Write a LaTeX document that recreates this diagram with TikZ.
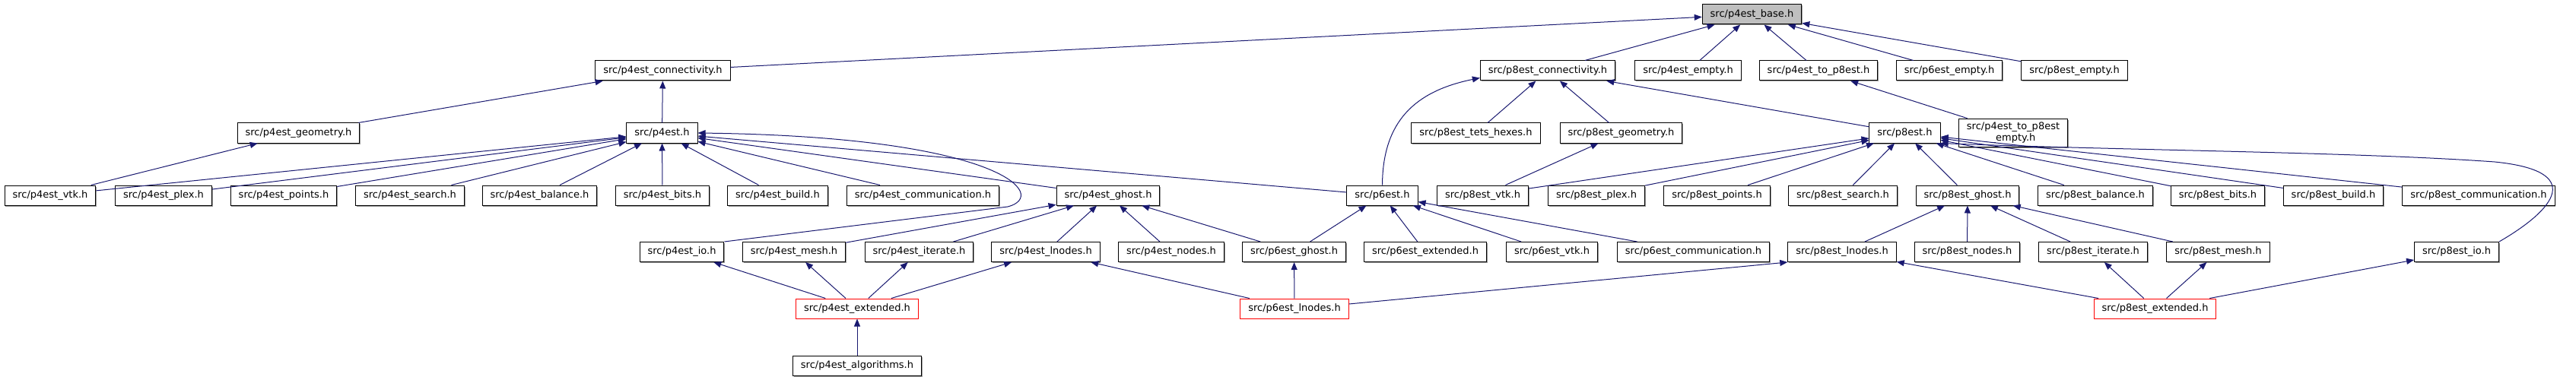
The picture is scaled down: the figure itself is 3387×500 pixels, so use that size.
\documentclass[tikz,border=0pt]{standalone}
\usepackage{fontspec}
\setmainfont{DejaVu Sans}
\usetikzlibrary{arrows.meta,shadows}
\definecolor{edgeblue}{RGB}{25,25,112}
\definecolor{rootgray}{RGB}{191,191,191}

\begin{document}
\begin{tikzpicture}[x=1pt, y=-1pt,
    box/.style={draw=black, line width=1pt, fill=white, font=\fontsize{13}{15}\selectfont,
        inner xsep=10.5pt, inner ysep=5pt, minimum height=26pt, align=center},
    file/.style={box, drop shadow={shadow xshift=1.2pt, shadow yshift=-1.5pt, fill=gray!80, opacity=1}},
    root/.style={file, fill=rootgray},
    cut/.style={box, draw=red},
    dep/.style={draw=edgeblue, line width=1pt, -{Triangle[length=10pt, width=8pt]}}]
    \useasboundingbox (0, 0) rectangle (3387, 500);

    % row 0 and 1
    \node[root] (base) at (2303.5, 19) {src/p4est\_base.h};
    \node[file] (conn4) at (871.5, 93) {src/p4est\_connectivity.h};
    \node[file] (conn8) at (2035, 93) {src/p8est\_connectivity.h};
    \node[file] (empty4) at (2219.5, 93) {src/p4est\_empty.h};
    \node[file] (top8) at (2391, 93) {src/p4est\_to\_p8est.h};
    \node[file] (empty6) at (2563, 93) {src/p6est\_empty.h};
    \node[file] (empty8) at (2727.5, 93) {src/p8est\_empty.h};

    % row 2
    \node[file] (geom4) at (392.5, 175) {src/p4est\_geometry.h};
    \node[file] (p4) at (870.5, 175) {src/p4est.h};
    \node[file] (tets8) at (1940.5, 175) {src/p8est\_tets\_hexes.h};
    \node[file] (geom8) at (2131.5, 175) {src/p8est\_geometry.h};
    \node[file] (p8) at (2504.5, 175) {src/p8est.h};
    \node[file] (top8empty) at (2647, 175) {src/p4est\_to\_p8est\\\_empty.h};

    % row 3
    \node[file] (vtk4) at (66, 257) {src/p4est\_vtk.h};
    \node[file] (plex4) at (215, 257) {src/p4est\_plex.h};
    \node[file] (points4) at (373, 257) {src/p4est\_points.h};
    \node[file] (search4) at (539, 257) {src/p4est\_search.h};
    \node[file] (balance4) at (709.5, 257) {src/p4est\_balance.h};
    \node[file] (bits4) at (871, 257) {src/p4est\_bits.h};
    \node[file] (build4) at (1022.5, 257) {src/p4est\_build.h};
    \node[file] (comm4) at (1213.5, 257) {src/p4est\_communication.h};
    \node[file] (ghost4) at (1457, 257) {src/p4est\_ghost.h};
    \node[file] (p6) at (1817.5, 257) {src/p6est.h};
    \node[file] (vtk8) at (1949.5, 257) {src/p8est\_vtk.h};
    \node[file] (plex8) at (2099, 257) {src/p8est\_plex.h};
    \node[file] (points8) at (2257.5, 257) {src/p8est\_points.h};
    \node[file] (search8) at (2423, 257) {src/p8est\_search.h};
    \node[file] (ghost8) at (2587, 257) {src/p8est\_ghost.h};
    \node[file] (balance8) at (2755, 257) {src/p8est\_balance.h};
    \node[file] (bits8) at (2916, 257) {src/p8est\_bits.h};
    \node[file] (build8) at (3068, 257) {src/p8est\_build.h};
    \node[file] (comm8) at (3259, 257) {src/p8est\_communication.h};

    % row 4
    \node[file] (io4) at (896.5, 331.5) {src/p4est\_io.h};
    \node[file] (mesh4) at (1044, 331.5) {src/p4est\_mesh.h};
    \node[file] (iterate4) at (1208.5, 331.5) {src/p4est\_iterate.h};
    \node[file] (lnodes4) at (1375, 331.5) {src/p4est\_lnodes.h};
    \node[file] (nodes4) at (1540, 331.5) {src/p4est\_nodes.h};
    \node[file] (ghost6) at (1701.5, 331.5) {src/p6est\_ghost.h};
    \node[file] (ext6) at (1874, 331.5) {src/p6est\_extended.h};
    \node[file] (vtk6) at (2040.5, 331.5) {src/p6est\_vtk.h};
    \node[file] (comm6) at (2226.5, 331.5) {src/p6est\_communication.h};
    \node[file] (lnodes8) at (2422, 331.5) {src/p8est\_lnodes.h};
    \node[file] (nodes8) at (2586.5, 331.5) {src/p8est\_nodes.h};
    \node[file] (iterate8) at (2752, 331.5) {src/p8est\_iterate.h};
    \node[file] (mesh8) at (2916.5, 331.5) {src/p8est\_mesh.h};
    \node[file] (io8) at (3230, 331.5) {src/p8est\_io.h};

    % row 5 and 6
    \node[cut] (ext4) at (1127, 406) {src/p4est\_extended.h};
    \node[cut] (lnodes6) at (1702, 406) {src/p6est\_lnodes.h};
    \node[cut] (ext8) at (2833.5, 406) {src/p8est\_extended.h};
    \node[file] (algo4) at (1127, 481) {src/p4est\_algorithms.h};

    % includes
    \foreach \src in {conn4, conn8, empty4, top8, empty6, empty8}
        \draw[dep] (\src) -- (base);
    \foreach \src in {geom4, p4}
        \draw[dep] (\src) -- (conn4);
    \foreach \src in {tets8, geom8, p8}
        \draw[dep] (\src) -- (conn8);
    \draw[dep] (p6.north) .. controls (1818, 160) and (1860, 120) .. ([yshift=4pt]conn8.south west);
    \draw[dep] (top8empty) -- (top8);
    \draw[dep] (vtk4) -- (geom4);
    \draw[dep] (vtk8) -- (geom8);
    \foreach \src in {vtk4, plex4, points4, search4, balance4, bits4, build4, comm4, ghost4, p6}
        \draw[dep] (\src) -- (p4);
    \draw[dep] (io4.north east) -- (1325, 272) .. controls (1380, 258) and (1320, 180) .. (p4.east);
    \foreach \src in {vtk8, plex8, points8, search8, ghost8, balance8, bits8, build8, comm8}
        \draw[dep] (\src) -- (p8);
    \draw[dep] (io8.north east) .. controls (3360, 275) and (3400, 225) .. (3280, 213)
        .. controls (3100, 200) and (2800, 198) .. (p8.south east);
    \foreach \src in {mesh4, iterate4, lnodes4, nodes4, ghost6}
        \draw[dep] (\src) -- (ghost4);
    \foreach \src in {ghost6, ext6, vtk6, comm6}
        \draw[dep] (\src) -- (p6);
    \foreach \src in {lnodes8, nodes8, iterate8, mesh8}
        \draw[dep] (\src) -- (ghost8);
    \foreach \dst in {io4, mesh4, iterate4, lnodes4}
        \draw[dep] (ext4) -- (\dst);
    \foreach \dst in {ghost6, lnodes4}
        \draw[dep] (lnodes6) -- (\dst);
    \draw[dep] ([yshift=6pt]lnodes6.east) -- (lnodes8.south west); % runs under p6est_communication
    \foreach \dst in {lnodes8, iterate8, mesh8, io8}
        \draw[dep] (ext8) -- (\dst);
    \draw[dep] (algo4) -- (ext4);
\end{tikzpicture}
\end{document}
